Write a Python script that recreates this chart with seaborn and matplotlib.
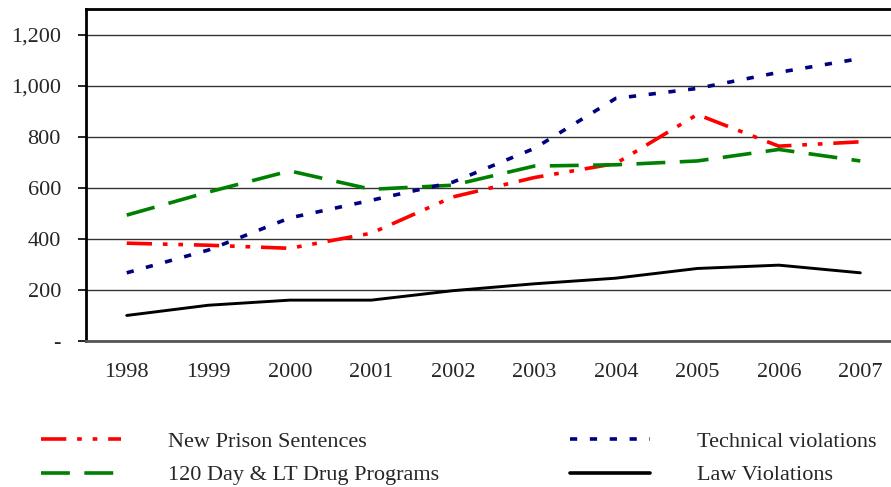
import matplotlib
matplotlib.use("Agg")
import matplotlib.pyplot as plt
import seaborn as sns
import pandas as pd
import numpy as np

# data
years = ['1998', '1999', '2000', '2001', '2002', '2003', '2004', '2005', '2006', '2007']
new_prison = [383, 375, 363, 422, 564, 640, 695, 887, 763, 780]
drug_programs = [493, 583, 666, 594, 610, 685, 690, 705, 750, 705]
technical = [267, 356, 482, 551, 622, 754, 950, 989, 1052, 1106]
law_violations = [100, 140, 160, 160, 197, 224, 246, 284, 297, 267]

series_names = ['New Prison Sentences', '120 Day & LT Drug Programs',
                'Technical violations', 'Law Violations']
y_ticks = [0, 200, 400, 600, 800, 1000, 1200]
y_tick_labels = ['-', '200', '400', '600', '800', '1,000', '1,200']

df = pd.DataFrame({
    'year': years * 4,
    'value': new_prison + drug_programs + technical + law_violations,
    'series': np.repeat(series_names, len(years)),
})
df['x'] = df['year'].map({y: i for i, y in enumerate(years)})

palette = {
    'New Prison Sentences': '#FF0000',
    '120 Day & LT Drug Programs': '#008000',
    'Technical violations': '#000080',
    'Law Violations': '#000000',
}
dashes = {
    'New Prison Sentences': (7, 3, 1.3, 3, 1.3, 3),
    '120 Day & LT Drug Programs': (8, 4),
    'Technical violations': (2, 3.5),
    'Law Violations': '',
}

sns.set_style("white")
plt.rcParams['font.family'] = ['Liberation Serif', 'DejaVu Serif']

fig = plt.figure(figsize=(8.91, 4.87), dpi=100)
ax = fig.add_axes([0.0965, 0.2998, 0.9035 * 1.0125, 0.6817])

sns.lineplot(data=df, x='x', y='value', hue='series', style='series',
             palette=palette, dashes=dashes, linewidth=2.6, ax=ax,
             hue_order=series_names, style_order=series_names, legend=False)
# law violations line a bit thinner
ax.lines[3].set_linewidth(2.1)

ax.set_ylim(0, 1300)
ax.set_xlim(-0.5, 9.5)
ax.set_yticks(y_ticks)
ax.set_yticklabels(y_tick_labels)
ax.set_xticks(range(len(years)))
ax.set_xticklabels(years)
ax.set_xticks(np.arange(-0.5, 10, 1), minor=True)
ax.tick_params(axis='x', which='major', length=0, pad=16, labelsize=16)
ax.tick_params(axis='x', which='minor', length=5, width=1.5, color='#777777', direction='out')
ax.tick_params(axis='y', length=6, width=1.2, color='black', direction='out', pad=12, labelsize=16, left=True)
ax.set_xlabel('')
ax.set_ylabel('')

ax.yaxis.grid(True, color='#333333', linewidth=1)
ax.set_axisbelow(True)
for s in ['left', 'top', 'right']:
    ax.spines[s].set_color('black')
    ax.spines[s].set_linewidth(2)
ax.spines['bottom'].set_color('#555555')
ax.spines['bottom'].set_linewidth(2)

handles = []
for n in series_names:
    if dashes[n]:
        handles.append(plt.Line2D([], [], color=palette[n], linewidth=2.6, dashes=dashes[n]))
    else:
        handles.append(plt.Line2D([], [], color=palette[n], linewidth=2.6))
leg = fig.legend(handles, series_names, ncol=2, loc='upper left', bbox_to_anchor=(0.024, 0.156),
                 frameon=False, fontsize=16, handlelength=3.6, handletextpad=2.1,
                 columnspacing=5.9, labelspacing=0.6)

fig.savefig('out.png', dpi=100)
